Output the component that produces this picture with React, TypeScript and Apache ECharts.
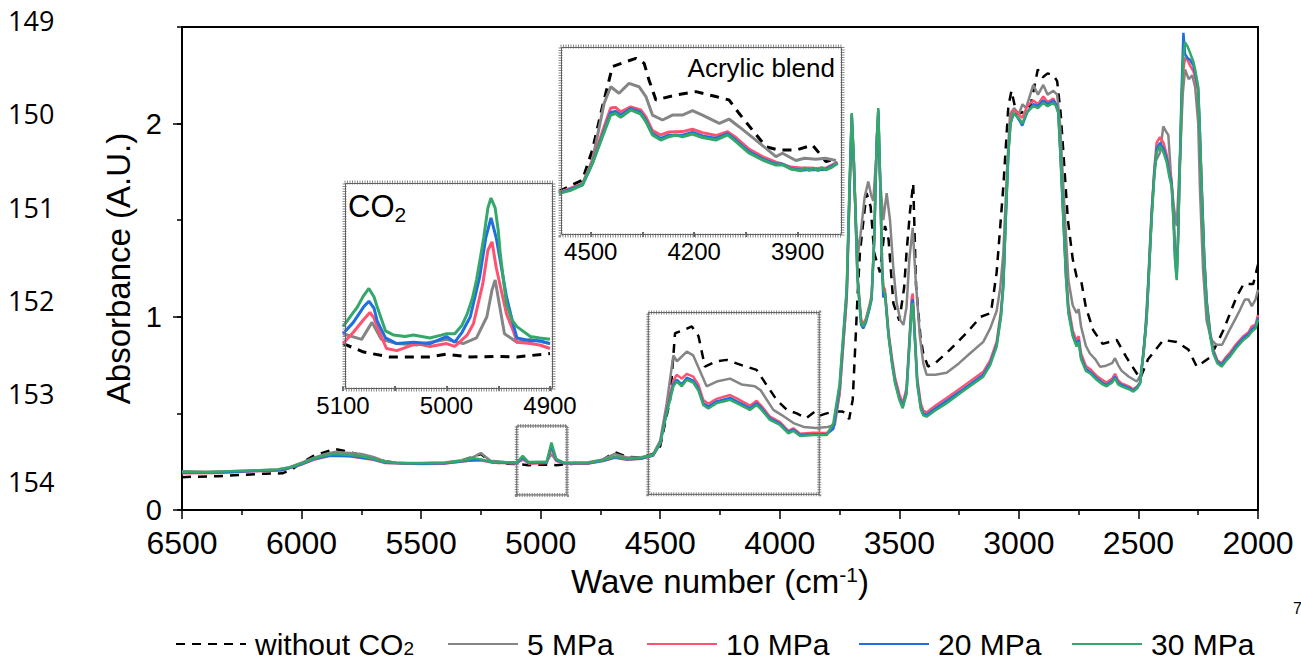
import React, { useEffect, useRef } from 'react';
import * as echarts from 'echarts';

type P = [number, number];

const seriesNames = ['without CO2', '5 MPa', '10 MPa', '20 MPa', '30 MPa'];
const seriesColors = ['#000000', '#858585', '#FF5270', '#1F6FE0', '#33A86A'];
const legendLefts = [170, 442, 641, 853, 1066];

const yTickLabels = [0, 1, 2];
const acrylicTickLabels = [3900, 4200, 4500];
const acrylicMinorTicks = [3900, 4050, 4200, 4350, 4500];
const lineNumbers = ['149', '150', '151', '152', '153', '154'];
const lineNumberCenters = [24, 117, 211, 304, 397, 485];

// zoom boxes drawn on the main spectrum: [wn from, wn to, abs from, abs to]
const zoomBoxes: [number, number, number, number][] = [
  [5100, 4890, 0.078, 0.435],
  [4550, 3835, 0.081, 1.022],
];

// ---------- main spectra ----------
const mainWithout: P[] = [
  [6500,0.17],[6450,0.172],[6350,0.175],[6250,0.182],[6150,0.188],[6080,0.19],[6040,0.21],[6000,0.245],[5950,0.28],[5900,0.3],[5860,0.316],[5800,0.3],[5740,0.28],[5700,0.27],[5650,0.252],[5600,0.243],[5500,0.24],[5400,0.243],[5330,0.255],[5250,0.29],[5210,0.25],[5150,0.24],[5100,0.238],[5050,0.232],[4975,0.235],[4935,0.232],[4900,0.236],[4800,0.243],[4740,0.26],[4690,0.3],[4640,0.275],[4580,0.272],[4530,0.29],[4500,0.33],[4459,0.57],[4438,0.915],[4405,0.93],[4368,0.95],[4340,0.9],[4313,0.742],[4264,0.77],[4222,0.777],[4160,0.75],[4097,0.725],[4060,0.656],[4013,0.57],[3970,0.518],[3929,0.5],[3890,0.475],[3853,0.509],[3830,0.49],[3804,0.5],[3770,0.51],[3740,0.51],[3720,0.5],[3710,0.47],[3695,0.57],[3685,0.83],[3675,1.1],[3665,1.33],[3650,1.5],[3637,1.64],[3620,1.57],[3605,1.33],[3581,1.23],[3560,1.47],[3545,1.4],[3525,1.07],[3500,0.98],[3480,1.15],[3470,1.33],[3455,1.55],[3442,1.69],[3430,1.16],[3412,0.9],[3400,0.81],[3380,0.742],[3350,0.76],[3288,0.83],[3219,0.916],[3160,1.0],[3117,1.02],[3093,1.23],[3065,1.675],[3044,2.09],[3031,2.17],[3010,2.05],[2980,2.06],[2950,2.1],[2921,2.28],[2900,2.24],[2880,2.26],[2856,2.25],[2840,2.22],[2825,2.05],[2814,1.85],[2795,1.5],[2775,1.3],[2759,1.21],[2740,1.19],[2720,1.05],[2689,0.93],[2650,0.86],[2591,0.88],[2550,0.79],[2493,0.68],[2460,0.78],[2396,0.88],[2340,0.87],[2291,0.83],[2256,0.742],[2200,0.79],[2145,0.93],[2089,1.105],[2060,1.17],[2020,1.17],[2000,1.27],
];

const main5: P[] = [
  [6500,0.2],[6400,0.198],[6300,0.2],[6200,0.205],[6100,0.21],[6050,0.222],[6000,0.245],[5950,0.27],[5900,0.29],[5860,0.3],[5800,0.295],[5750,0.29],[5700,0.275],[5650,0.252],[5600,0.245],[5500,0.243],[5400,0.246],[5330,0.258],[5280,0.275],[5250,0.295],[5210,0.255],[5150,0.248],[5100,0.247],[5075,0.26],[5050,0.248],[4975,0.25],[4955,0.29],[4935,0.255],[4900,0.245],[4800,0.247],[4740,0.262],[4690,0.29],[4640,0.272],[4580,0.273],[4530,0.288],[4500,0.36],[4473,0.55],[4445,0.8],[4430,0.77],[4389,0.82],[4362,0.8],[4341,0.74],[4306,0.64],[4264,0.665],[4208,0.68],[4160,0.65],[4104,0.64],[4080,0.62],[4027,0.518],[3990,0.49],[3943,0.45],[3900,0.43],[3850,0.425],[3800,0.43],[3770,0.44],[3750,0.6],[3735,0.85],[3720,1.1],[3708,1.65],[3699,2.0],[3690,1.75],[3680,1.45],[3672,1.33],[3660,1.45],[3645,1.62],[3630,1.7],[3618,1.63],[3609,1.6],[3598,1.8],[3588,1.95],[3580,1.7],[3567,1.5],[3553,1.64],[3539,1.5],[3525,1.25],[3511,1.07],[3495,0.98],[3483,0.958],[3470,1.05],[3458,1.3],[3444,1.46],[3432,1.2],[3414,0.898],[3400,0.76],[3386,0.7],[3350,0.7],[3302,0.71],[3250,0.76],[3205,0.81],[3149,0.87],[3120,0.94],[3093,1.03],[3078,1.15],[3065,1.33],[3050,1.75],[3037,2.05],[3020,2.08],[3000,2.05],[2985,2.1],[2970,2.08],[2940,2.2],[2920,2.15],[2898,2.2],[2880,2.15],[2856,2.17],[2840,2.15],[2828,2.0],[2814,1.67],[2800,1.35],[2793,1.19],[2775,1.06],[2759,1.02],[2750,1.04],[2740,0.95],[2720,0.85],[2703,0.81],[2680,0.78],[2661,0.742],[2640,0.745],[2610,0.76],[2598,0.786],[2585,0.75],[2570,0.72],[2540,0.69],[2507,0.665],[2490,0.7],[2475,0.85],[2460,1.16],[2445,1.55],[2430,1.8],[2410,1.85],[2396,1.986],[2385,1.96],[2375,1.94],[2361,1.675],[2350,1.55],[2340,1.47],[2333,1.65],[2325,1.85],[2315,2.15],[2305,2.28],[2290,2.23],[2275,2.25],[2263,2.19],[2250,2.0],[2243,1.67],[2230,1.25],[2215,0.98],[2195,0.88],[2173,0.855],[2150,0.855],[2120,0.93],[2090,1.0],[2075,1.036],[2055,1.09],[2040,1.09],[2026,1.055],[2010,1.09],[2000,1.14],
];

const main10: P[] = [
  [6500,0.19],[6350,0.192],[6200,0.2],[6080,0.205],[6000,0.235],[5950,0.26],[5880,0.28],[5800,0.278],[5700,0.26],[5650,0.243],[5500,0.238],[5400,0.24],[5300,0.255],[5250,0.258],[5200,0.245],[5100,0.24],[5075,0.265],[5050,0.24],[4975,0.243],[4955,0.32],[4935,0.255],[4900,0.24],[4800,0.24],[4740,0.253],[4690,0.27],[4640,0.26],[4580,0.265],[4530,0.28],[4500,0.345],[4473,0.52],[4445,0.67],[4431,0.7],[4410,0.68],[4389,0.705],[4362,0.69],[4341,0.65],[4320,0.57],[4299,0.55],[4264,0.575],[4208,0.595],[4180,0.578],[4125,0.54],[4097,0.565],[4076,0.538],[4041,0.483],[3999,0.455],[3964,0.41],[3943,0.423],[3915,0.395],[3860,0.4],[3804,0.398],[3776,0.43],[3750,0.6],[3735,0.85],[3720,1.1],[3708,1.65],[3699,2.04],[3690,1.8],[3675,1.22],[3660,0.99],[3651,0.96],[3640,0.99],[3625,1.06],[3616,1.11],[3605,1.4],[3595,1.9],[3588,2.06],[3580,1.7],[3572,1.26],[3567,1.16],[3560,1.14],[3545,0.92],[3530,0.78],[3518,0.685],[3500,0.6],[3486,0.55],[3470,0.63],[3458,0.88],[3448,1.1],[3444,1.12],[3438,0.98],[3425,0.68],[3410,0.55],[3400,0.515],[3386,0.505],[3350,0.54],[3302,0.58],[3250,0.625],[3205,0.665],[3149,0.715],[3120,0.775],[3093,0.87],[3075,1.03],[3065,1.18],[3055,1.52],[3044,1.86],[3035,2.02],[3023,2.07],[3010,2.06],[2995,2.04],[2986,2.03],[2965,2.09],[2940,2.12],[2920,2.1],[2898,2.14],[2880,2.11],[2856,2.13],[2845,2.1],[2835,2.06],[2825,1.82],[2814,1.53],[2803,1.24],[2793,1.06],[2775,0.93],[2759,0.875],[2750,0.9],[2740,0.81],[2720,0.745],[2703,0.73],[2675,0.695],[2650,0.672],[2633,0.66],[2610,0.68],[2598,0.705],[2585,0.67],[2570,0.655],[2540,0.64],[2521,0.625],[2505,0.64],[2493,0.66],[2480,0.8],[2466,0.98],[2455,1.26],[2445,1.52],[2434,1.76],[2424,1.9],[2410,1.93],[2395,1.9],[2382,1.84],[2370,1.76],[2361,1.7],[2352,1.5],[2347,1.35],[2340,1.24],[2334,1.42],[2329,1.68],[2320,2.05],[2312,2.28],[2305,2.34],[2295,2.33],[2284,2.3],[2270,2.27],[2263,2.24],[2250,2.16],[2243,1.93],[2236,1.7],[2225,1.32],[2215,1.09],[2200,0.92],[2187,0.83],[2170,0.775],[2152,0.76],[2135,0.79],[2117,0.815],[2090,0.86],[2061,0.9],[2040,0.92],[2026,0.95],[2010,0.96],[2000,1.01],
];

const main20: P[] = [
  [6500,0.193],[6350,0.194],[6200,0.202],[6080,0.207],[6000,0.237],[5950,0.262],[5880,0.282],[5800,0.28],[5700,0.262],[5650,0.245],[5500,0.24],[5400,0.242],[5300,0.256],[5250,0.26],[5200,0.247],[5100,0.242],[5075,0.272],[5050,0.243],[4975,0.246],[4955,0.335],[4935,0.26],[4900,0.242],[4800,0.242],[4740,0.255],[4690,0.273],[4640,0.262],[4580,0.267],[4530,0.283],[4500,0.345],[4473,0.51],[4445,0.65],[4431,0.675],[4410,0.65],[4389,0.685],[4362,0.67],[4341,0.63],[4320,0.553],[4299,0.535],[4264,0.562],[4208,0.58],[4180,0.562],[4125,0.527],[4097,0.553],[4076,0.527],[4041,0.474],[3999,0.447],[3964,0.403],[3943,0.416],[3915,0.388],[3860,0.392],[3804,0.392],[3776,0.42],[3750,0.63],[3735,0.88],[3720,1.13],[3708,1.68],[3699,2.05],[3690,1.8],[3675,1.2],[3660,0.96],[3651,0.94],[3640,0.97],[3625,1.04],[3616,1.09],[3605,1.4],[3595,1.9],[3588,2.07],[3580,1.7],[3572,1.24],[3567,1.1],[3560,1.12],[3545,0.9],[3530,0.76],[3518,0.665],[3500,0.58],[3486,0.535],[3470,0.61],[3458,0.86],[3448,1.07],[3444,1.09],[3438,0.96],[3425,0.66],[3410,0.53],[3400,0.5],[3386,0.492],[3350,0.525],[3302,0.565],[3250,0.61],[3205,0.65],[3149,0.7],[3120,0.76],[3093,0.855],[3075,1.01],[3065,1.165],[3055,1.51],[3044,1.85],[3035,2.0],[3023,2.05],[3010,2.04],[2995,2.01],[2986,1.99],[2965,2.06],[2940,2.1],[2920,2.09],[2898,2.12],[2880,2.1],[2856,2.12],[2845,2.1],[2835,2.06],[2825,1.81],[2814,1.51],[2803,1.21],[2793,1.03],[2775,0.91],[2759,0.855],[2750,0.88],[2740,0.79],[2720,0.73],[2703,0.716],[2675,0.682],[2650,0.658],[2633,0.648],[2610,0.668],[2598,0.69],[2585,0.658],[2570,0.647],[2540,0.632],[2521,0.618],[2505,0.635],[2493,0.66],[2480,0.81],[2466,1.0],[2455,1.27],[2445,1.52],[2434,1.74],[2424,1.87],[2410,1.9],[2395,1.87],[2382,1.82],[2370,1.74],[2361,1.69],[2352,1.47],[2347,1.31],[2340,1.2],[2334,1.42],[2329,1.7],[2320,2.15],[2312,2.47],[2305,2.36],[2295,2.34],[2284,2.33],[2270,2.3],[2263,2.26],[2250,2.18],[2243,1.96],[2236,1.69],[2225,1.31],[2215,1.08],[2200,0.91],[2187,0.82],[2170,0.768],[2152,0.75],[2135,0.78],[2117,0.803],[2090,0.85],[2061,0.89],[2040,0.91],[2026,0.935],[2010,0.95],[2000,0.995],
];

const main30: P[] = [
  [6500,0.198],[6400,0.196],[6300,0.2],[6200,0.205],[6100,0.21],[6050,0.22],[6000,0.24],[5950,0.265],[5900,0.283],[5860,0.29],[5800,0.285],[5750,0.278],[5700,0.265],[5650,0.248],[5600,0.243],[5500,0.242],[5400,0.245],[5330,0.255],[5280,0.268],[5250,0.262],[5210,0.25],[5150,0.247],[5100,0.245],[5075,0.28],[5050,0.247],[4975,0.25],[4955,0.349],[4935,0.265],[4900,0.243],[4800,0.245],[4740,0.258],[4690,0.276],[4640,0.264],[4580,0.27],[4530,0.285],[4500,0.345],[4473,0.5],[4445,0.64],[4431,0.665],[4410,0.64],[4389,0.674],[4362,0.66],[4341,0.62],[4320,0.544],[4299,0.525],[4264,0.553],[4236,0.562],[4208,0.57],[4180,0.553],[4125,0.518],[4097,0.544],[4076,0.518],[4041,0.466],[3999,0.44],[3964,0.397],[3943,0.41],[3915,0.383],[3860,0.388],[3804,0.388],[3776,0.45],[3750,0.65],[3735,0.9],[3720,1.15],[3708,1.7],[3699,2.055],[3690,1.8],[3675,1.2],[3660,0.97],[3651,0.95],[3640,0.98],[3625,1.05],[3616,1.1],[3605,1.4],[3595,1.9],[3588,2.08],[3580,1.7],[3572,1.25],[3567,1.14],[3560,1.12],[3545,0.9],[3530,0.75],[3518,0.656],[3500,0.57],[3486,0.527],[3470,0.6],[3458,0.85],[3448,1.05],[3444,1.07],[3438,0.95],[3425,0.65],[3410,0.52],[3400,0.49],[3386,0.483],[3350,0.515],[3302,0.553],[3250,0.6],[3205,0.64],[3149,0.69],[3120,0.75],[3093,0.846],[3075,1.0],[3065,1.157],[3055,1.5],[3044,1.85],[3035,2.0],[3023,2.055],[3010,2.04],[2995,2.02],[2986,2.0],[2965,2.06],[2940,2.09],[2920,2.08],[2898,2.107],[2880,2.09],[2856,2.107],[2845,2.09],[2835,2.055],[2825,1.8],[2814,1.5],[2803,1.2],[2793,1.02],[2775,0.9],[2759,0.846],[2750,0.87],[2740,0.78],[2720,0.72],[2703,0.708],[2675,0.674],[2650,0.65],[2633,0.64],[2610,0.66],[2598,0.682],[2585,0.65],[2570,0.64],[2540,0.625],[2521,0.613],[2505,0.63],[2493,0.656],[2480,0.8],[2466,0.984],[2455,1.25],[2445,1.5],[2434,1.72],[2424,1.85],[2410,1.886],[2395,1.85],[2382,1.8],[2370,1.72],[2361,1.675],[2352,1.45],[2347,1.295],[2340,1.19],[2334,1.4],[2329,1.675],[2320,2.1],[2312,2.35],[2305,2.42],[2295,2.4],[2284,2.366],[2270,2.32],[2263,2.28],[2250,2.19],[2243,1.95],[2236,1.675],[2225,1.3],[2215,1.07],[2200,0.9],[2187,0.81],[2170,0.76],[2152,0.742],[2135,0.77],[2117,0.794],[2090,0.84],[2061,0.88],[2040,0.9],[2026,0.924],[2010,0.94],[2000,0.984],
];

// ---------- CO2 inset (5100-4900 cm-1) ----------
const co2Without: P[] = [[5100,0.25],[5080,0.244],[5055,0.2405],[5016,0.2405],[5000,0.2425],[4977,0.2405],[4951,0.241],[4932,0.2405],[4900,0.243]];
const co2_5: P[] = [[5100,0.257],[5082,0.253],[5072,0.265],[5063,0.253],[5048,0.25],[5029,0.249],[5000,0.253],[4984,0.25],[4971,0.254],[4961,0.269],[4956,0.288],[4953,0.295],[4949,0.278],[4944,0.257],[4932,0.251],[4919,0.253],[4900,0.25]];
const co2_10: P[] = [[5100,0.25],[5090,0.258],[5080,0.267],[5074,0.272],[5070,0.268],[5067,0.262],[5058,0.2465],[5048,0.245],[5029,0.25],[5016,0.248],[5000,0.25],[4992,0.248],[4980,0.256],[4974,0.264],[4965,0.292],[4960,0.316],[4956,0.322],[4952,0.304],[4946,0.284],[4942,0.271],[4935,0.258],[4932,0.251],[4919,0.25],[4910,0.249],[4900,0.2465]];
const co2_20: P[] = [[5100,0.257],[5090,0.265],[5080,0.276],[5075,0.28],[5070,0.275],[5067,0.266],[5059,0.254],[5048,0.25],[5032,0.251],[5016,0.25],[5000,0.255],[4992,0.251],[4985,0.258],[4977,0.269],[4968,0.297],[4962,0.325],[4957,0.339],[4952,0.325],[4946,0.3],[4942,0.283],[4936,0.265],[4932,0.254],[4919,0.252],[4910,0.252],[4900,0.25]];
const co2_30: P[] = [[5100,0.262],[5090,0.272],[5086,0.276],[5080,0.284],[5075,0.289],[5070,0.283],[5067,0.276],[5059,0.259],[5051,0.256],[5040,0.255],[5032,0.256],[5016,0.254],[5005,0.256],[5000,0.257],[4992,0.257],[4985,0.263],[4980,0.271],[4975,0.282],[4971,0.295],[4967,0.312],[4964,0.325],[4960,0.346],[4957,0.353],[4953,0.346],[4950,0.33],[4948,0.313],[4945,0.295],[4942,0.278],[4937,0.267],[4932,0.262],[4919,0.255],[4910,0.254],[4900,0.253]];

// ---------- Acrylic blend inset ----------
const acWithout: P[] = [[4592,0.276],[4524,0.334],[4495,0.487],[4466,0.707],[4437,0.91],[4398,0.935],[4369,0.952],[4345,0.927],[4331,0.842],[4311,0.741],[4253,0.766],[4195,0.783],[4137,0.758],[4099,0.741],[4070,0.673],[4031,0.588],[3992,0.503],[3953,0.486],[3905,0.486],[3857,0.512],[3837,0.47],[3818,0.428],[3789,0.44]];
const ac5: P[] = [[4592,0.27],[4524,0.31],[4495,0.436],[4461,0.724],[4442,0.808],[4418,0.775],[4389,0.825],[4360,0.808],[4340,0.758],[4321,0.664],[4292,0.639],[4263,0.664],[4234,0.664],[4205,0.686],[4176,0.664],[4127,0.622],[4099,0.644],[4070,0.605],[4021,0.537],[3963,0.453],[3944,0.47],[3905,0.433],[3880,0.445],[3847,0.44],[3820,0.445],[3789,0.433]];
const ac10: P[] = [[4592,0.27],[4524,0.315],[4495,0.43],[4466,0.58],[4442,0.7],[4428,0.703],[4413,0.68],[4384,0.706],[4355,0.69],[4340,0.655],[4321,0.585],[4297,0.563],[4273,0.578],[4234,0.58],[4205,0.592],[4176,0.575],[4137,0.56],[4103,0.58],[4079,0.55],[4040,0.49],[4002,0.453],[3963,0.425],[3944,0.415],[3920,0.4],[3890,0.395],[3866,0.395],[3847,0.393],[3818,0.395],[3784,0.425]];
const ac20: P[] = [[4592,0.265],[4524,0.31],[4495,0.42],[4466,0.56],[4442,0.677],[4428,0.683],[4413,0.663],[4384,0.697],[4355,0.677],[4340,0.638],[4321,0.57],[4297,0.545],[4273,0.562],[4234,0.562],[4205,0.576],[4176,0.558],[4137,0.545],[4103,0.57],[4079,0.536],[4040,0.477],[4002,0.442],[3963,0.415],[3944,0.415],[3920,0.393],[3890,0.384],[3866,0.388],[3847,0.386],[3818,0.388],[3784,0.42]];
const ac30: P[] = [[4592,0.267],[4560,0.28],[4524,0.309],[4495,0.419],[4466,0.554],[4442,0.664],[4428,0.672],[4413,0.653],[4384,0.69],[4355,0.669],[4340,0.63],[4321,0.563],[4297,0.537],[4273,0.554],[4253,0.563],[4234,0.554],[4205,0.568],[4176,0.55],[4137,0.537],[4103,0.563],[4079,0.529],[4040,0.47],[4002,0.436],[3963,0.41],[3944,0.412],[3920,0.39],[3890,0.381],[3880,0.395],[3866,0.383],[3855,0.395],[3840,0.382],[3830,0.398],[3818,0.385],[3800,0.4],[3784,0.419]];

const mainData = [mainWithout, main5, main10, main20, main30];
const co2Data = [co2Without, co2_5, co2_10, co2_20, co2_30];
const acData = [acWithout, ac5, ac10, ac20, ac30];

const FONT = '"Liberation Sans", Arial, sans-serif';
const plain = (v: number) => String(v);

function lineSeries(name: string, i: number, data: P[], xi: number, yi: number, width: number): any {
  return {
    type: 'line', name, data, xAxisIndex: xi, yAxisIndex: yi,
    showSymbol: false, symbol: 'none', smooth: false,
    lineStyle: { color: seriesColors[i], width, type: i === 0 ? [9, 7] : 'solid' },
    itemStyle: { color: seriesColors[i] },
    z: 2 + i,
  };
}

function frame(left: number, top: number, w: number, h: number): any[] {
  return [
    { type: 'rect', left, top, shape: { x: 0, y: 0, width: w, height: h }, style: { fill: 'none', stroke: '#8c8c8c', lineWidth: 4, lineDash: [1, 1.5] }, z: 50 },
    { type: 'rect', left: left + 1, top: top + 1, shape: { x: 0, y: 0, width: w - 2, height: h - 2 }, style: { fill: 'none', stroke: '#606060', lineWidth: 1 }, z: 51 },
  ];
}

export default function App() {
  const ref = useRef<HTMLDivElement>(null);
  useEffect(() => {
    if (!ref.current) return;
    const chart = echarts.init(ref.current, null, { renderer: 'svg' });

    const series: any[] = [];
    seriesNames.forEach((n, i) => {
      const s = lineSeries(n, i, mainData[i], 0, 0, 2.5);
      if (i === 0) {
        s.markArea = {
          silent: true,
          itemStyle: { color: 'rgba(0,0,0,0)', borderColor: '#8c8c8c', borderWidth: 4, borderType: [1, 1.5] },
          data: zoomBoxes.map(b => [{ xAxis: b[0], yAxis: b[2] }, { xAxis: b[1], yAxis: b[3] }]),
        };
      }
      if (i === 1) {
        s.markArea = {
          silent: true,
          itemStyle: { color: 'rgba(0,0,0,0)', borderColor: '#606060', borderWidth: 1 },
          data: zoomBoxes.map(b => [{ xAxis: b[0], yAxis: b[2] }, { xAxis: b[1], yAxis: b[3] }]),
        };
      }
      series.push(s);
    });
    seriesNames.forEach((n, i) => series.push(lineSeries(n, i, co2Data[i], 1, 2, 3)));
    seriesNames.forEach((n, i) => series.push(lineSeries(n, i, acData[i], 2, 3, 3)));

    const insetTick = { show: true, length: 5, lineStyle: { color: '#333', width: 1.5 } };

    const option: any = {
      animation: false,
      textStyle: { fontFamily: FONT, color: '#000' },
      grid: [
        { left: 182, top: 27, width: 1076, height: 483, show: true, borderColor: '#000', borderWidth: 2, backgroundColor: 'rgba(0,0,0,0)' },
        { left: 343, top: 181, width: 207, height: 205 },
        { left: 559, top: 45, width: 280, height: 187 },
      ],
      xAxis: [
        {
          gridIndex: 0, type: 'value', min: 2000, max: 6500, interval: 500, inverse: true,
          axisLine: { show: true, onZero: false, lineStyle: { color: '#000', width: 2 } },
          axisTick: { show: true, length: 9, lineStyle: { color: '#000', width: 1.5 } },
          minorTick: { show: true, splitNumber: 2, length: 5, lineStyle: { color: '#000', width: 1.5 } },
          splitLine: { show: false },
          axisLabel: { fontSize: 32, lineHeight: 26, color: '#000', margin: 20, fontFamily: FONT, formatter: plain },
          name: 'Wave number (cm{sup|-1})', nameLocation: 'middle', nameGap: 51,
          nameTextStyle: { fontSize: 33, color: '#000', fontFamily: FONT, lineHeight: 36, rich: { sup: { fontSize: 21, lineHeight: 14, verticalAlign: 'top', fontFamily: FONT, color: '#000' } } },
        },
        {
          gridIndex: 1, type: 'value', min: 4900, max: 5100, interval: 100, inverse: true,
          axisLine: { show: false }, axisTick: insetTick,
          minorTick: { show: true, splitNumber: 2, length: 5, lineStyle: { color: '#333', width: 1.5 } },
          splitLine: { show: false },
          axisLabel: { fontSize: 24, color: '#000', margin: 7, fontFamily: FONT, formatter: plain },
        },
        {
          gridIndex: 2, type: 'value', min: 3780, max: 4592, inverse: true,
          axisLine: { show: false },
          axisTick: { ...insetTick, customValues: acrylicMinorTicks },
          splitLine: { show: false },
          axisLabel: { fontSize: 24, color: '#000', margin: 7, fontFamily: FONT, customValues: acrylicTickLabels, formatter: plain },
        },
      ],
      yAxis: [
        {
          gridIndex: 0, type: 'value', min: 0, max: 2.5, interval: 0.5, position: 'left',
          axisLine: { show: true, lineStyle: { color: '#000', width: 2 } },
          axisTick: { show: true, length: 5, lineStyle: { color: '#000', width: 1.5 } },
          splitLine: { show: false },
          axisLabel: { fontSize: 29, lineHeight: 22, color: '#000', margin: 20, fontFamily: FONT, customValues: yTickLabels, formatter: plain },
          name: 'Absorbance (A.U.)', nameLocation: 'middle', nameGap: 35,
          nameTextStyle: { fontSize: 33, color: '#000', fontFamily: FONT },
        },
        {
          gridIndex: 0, type: 'value', min: 0, max: 2.5, position: 'left', offset: 0,
          axisLine: { show: false },
          axisTick: { show: true, length: 9, customValues: yTickLabels, lineStyle: { color: '#000', width: 1.5 } },
          axisLabel: { show: false }, splitLine: { show: false },
        },
        { gridIndex: 1, type: 'value', min: 0.22, max: 0.365, show: false, splitLine: { show: false } },
        { gridIndex: 2, type: 'value', min: 0.07, max: 1.02, show: false, splitLine: { show: false } },
      ],
      legend: seriesNames.map((n, i) => ({
        data: [n], left: legendLefts[i], top: 622, itemWidth: 70, itemHeight: 14, itemGap: 0,
        selectedMode: false,
        itemStyle: { opacity: 0 },
        formatter: (name: string) => (name === 'without CO2' ? 'without CO{sub|2}' : name),
        textStyle: {
          fontSize: 30, color: '#000', fontFamily: FONT, lineHeight: 34, padding: [0, 0, 0, 4],
          rich: { sub: { fontSize: 19, lineHeight: 20, padding: [12, 0, 0, 0], verticalAlign: 'top', fontFamily: FONT, color: '#000' } },
        },
      })),
      graphic: [
        ...lineNumbers.map((t, i) => ({
          type: 'text', left: 8, top: lineNumberCenters[i] - 17,
          style: { text: t, fontSize: 27, fontFamily: '"Open Sans", "Noto Sans", sans-serif', fill: '#000' },
        })),
        { type: 'text', left: 1293, top: 600, style: { text: '7', fontSize: 16, fontFamily: FONT, fill: '#000' } },
        ...frame(342, 180, 209, 207),
        ...frame(558, 44, 282, 189),
        {
          type: 'text', left: 348, top: 191, z: 60,
          style: {
            text: '{a|CO}{b|2}', fill: '#000', fontSize: 31, fontFamily: FONT,
            rich: {
              a: { fontSize: 31, lineHeight: 30, fontFamily: FONT, fill: '#000' },
              b: { fontSize: 21, lineHeight: 22, padding: [12, 0, 0, 0], verticalAlign: 'top', fontFamily: FONT, fill: '#000' },
            },
          },
        },
        {
          type: 'text', right: 466, top: 55, z: 60,
          style: { text: 'Acrylic blend', fontSize: 26, fontFamily: FONT, fill: '#000' },
        },
      ],
      series,
    };
    chart.setOption(option);
    return () => chart.dispose();
  }, []);
  return <div ref={ref} style={{ position: 'fixed', left: 0, top: 0, width: 1301, height: 661, background: '#fff' }} />;
}
